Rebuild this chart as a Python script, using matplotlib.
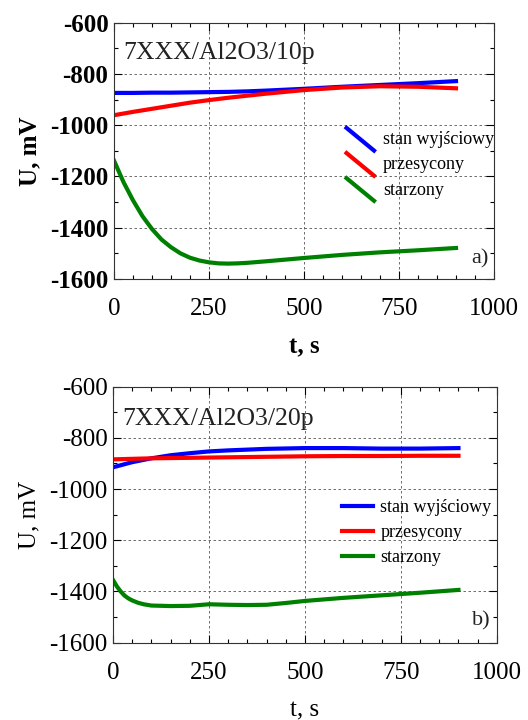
import matplotlib
matplotlib.use("Agg")
import matplotlib.pyplot as plt
from matplotlib.legend_handler import HandlerLine2D
from matplotlib.lines import Line2D
from matplotlib.ticker import MultipleLocator

plt.rcParams['font.family'] = ['Liberation Serif', 'DejaVu Serif']
plt.rcParams['axes.unicode_minus'] = False

# ---- data panel a) ----
t_a = [0, 50, 100, 150, 200, 250, 300, 350, 400, 500, 600, 700, 800, 900]
a_stan = [-874, -874, -873, -873, -872, -871, -870, -868, -865, -858, -850, -843, -836, -828]
a_prze = [-961, -948, -936, -924, -912, -902, -893, -885, -877, -863, -853, -848, -850, -856]
t_a_star = [0, 25, 50, 75, 100, 125, 150, 175, 200, 225, 250, 275, 300, 325, 350, 400, 500, 600, 700, 800, 900]
a_star = [-1138, -1222, -1293, -1355, -1405, -1446, -1476, -1500, -1517, -1528, -1535, -1539, -1540, -1539, -1537,
          -1531, -1518, -1506, -1496, -1488, -1479]

# ---- data panel b) ----
t_b = [0, 25, 50, 100, 150, 200, 250, 300, 400, 500, 600, 700, 800, 900]
b_stan = [-915, -905, -895, -880, -868, -860, -853, -849, -843, -840, -840, -842, -842, -840]
b_prze = [-884, -883, -882, -880, -879, -878, -877, -876, -874, -872, -871, -871, -870, -870]
t_b_star = [0, 10, 20, 30, 40, 50, 65, 80, 100, 150, 200, 250, 300, 350, 400, 450, 500, 600, 700, 800, 900]
b_star = [-1355, -1380, -1400, -1416, -1427, -1435, -1444, -1450, -1455, -1457, -1456, -1450, -1452, -1453, -1452,
          -1445, -1437, -1425, -1415, -1405, -1394]

labels = ['stan wyjściowy', 'przesycony', 'starzony']
colors = ['#0000ff', '#ff0000', '#008000']


class DiagHandler(HandlerLine2D):
    def create_artists(self, legend, orig_handle, xdescent, ydescent,
                       width, height, fontsize, trans):
        x0 = -xdescent
        line = Line2D([x0, x0 + width], [height * 1.4, -height * 0.6],
                      color=orig_handle.get_color(),
                      linewidth=orig_handle.get_linewidth(),
                      solid_capstyle='butt')
        line.set_transform(trans)
        return [line]


fig = plt.figure(figsize=(5.28, 7.2), dpi=100)
ax1 = fig.add_axes([0.2159, 0.6125, 0.7197, 0.356])
ax2 = fig.add_axes([0.214, 0.1074, 0.727, 0.3556])


def style(ax, bold):
    ax.set_xlim(0, 1000)
    ax.set_ylim(-1600, -600)
    ax.xaxis.set_major_locator(MultipleLocator(250))
    ax.xaxis.set_minor_locator(MultipleLocator(50))
    ax.yaxis.set_major_locator(MultipleLocator(200))
    ax.yaxis.set_minor_locator(MultipleLocator(100))
    ax.tick_params(which='both', direction='in', top=True, right=True)
    ax.tick_params(which='major', length=6, width=0.8, labelsize=18)
    ax.tick_params(axis='x', which='major', pad=14)
    ax.tick_params(axis='y', which='major', pad=4)
    ax.tick_params(which='minor', length=3, width=0.8)
    ax.grid(True, which='major', linestyle=(0, (3, 3)), color='#555555', linewidth=0.6)
    for sp in ax.spines.values():
        sp.set_linewidth(0.8)
        sp.set_color('#333333')
    if bold:
        for lab in ax.get_yticklabels():
            lab.set_fontweight('bold')
    ax.set_xlabel('t, s', fontsize=18, fontweight='bold' if bold else 'normal', labelpad=11)
    ax.set_ylabel('U, mV', fontsize=18, fontweight='bold' if bold else 'normal', labelpad=6)


lw = 3
h1 = []
for x, y, c, l in zip([t_a, t_a, t_a_star], [a_stan, a_prze, a_star], colors, labels):
    h1.append(ax1.plot(x, y, color=c, lw=lw, label=l)[0])
style(ax1, True)
ax1.text(0.025, 0.88, '7XXX/Al2O3/10p', transform=ax1.transAxes, fontsize=18.5,
         ha='left', va='center', color='#222222')
ax1.text(0.985, 0.08, 'a)', transform=ax1.transAxes, fontsize=16,
         ha='right', va='center', color='#222222')
ax1.legend(handles=h1, loc='center left', bbox_to_anchor=(0.565, 0.445), frameon=False,
           fontsize=13, handlelength=1.7, handletextpad=0.4, labelspacing=0.45,
           handler_map={Line2D: DiagHandler()})

h2 = []
for x, y, c, l in zip([t_b, t_b, t_b_star], [b_stan, b_prze, b_star], colors, labels):
    h2.append(ax2.plot(x, y, color=c, lw=lw, label=l)[0])
style(ax2, False)
ax2.text(0.025, 0.875, '7XXX/Al2O3/20p', transform=ax2.transAxes, fontsize=18.5,
         ha='left', va='center', color='#222222')
ax2.text(0.985, 0.085, 'b)', transform=ax2.transAxes, fontsize=16,
         ha='right', va='center', color='#222222')
ax2.legend(handles=h2, loc='center left', bbox_to_anchor=(0.555, 0.43), frameon=False,
           fontsize=13, handlelength=1.7, handletextpad=0.4, labelspacing=0.45)

fig.savefig('out.png', dpi=100)
